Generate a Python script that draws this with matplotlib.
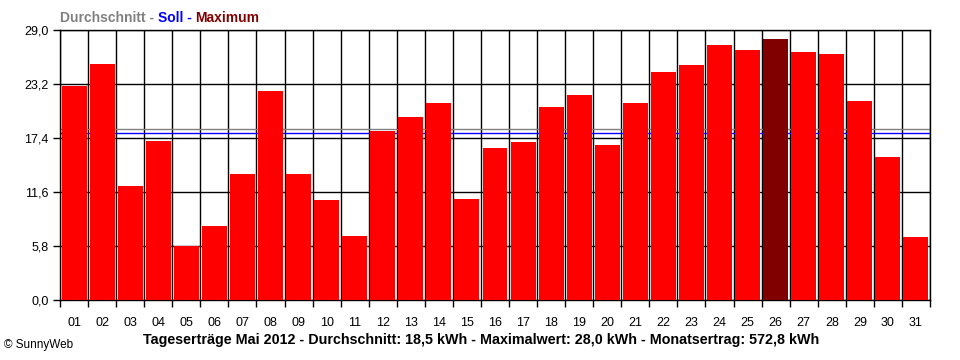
import numpy as np
import matplotlib
matplotlib.use("Agg")
import matplotlib.pyplot as plt
from matplotlib.offsetbox import TextArea, HPacker, AnchoredOffsetbox

# Tageserträge Mai 2012 (kWh)
days = [f"{d:02d}" for d in range(1, 32)]
ertrag = [23.0, 25.3, 12.2, 17.1, 5.8, 8.0, 13.5, 22.5, 13.5, 10.7,
          6.9, 18.2, 19.7, 21.2, 10.8, 16.3, 17.0, 20.7, 22.0, 16.7,
          21.2, 24.5, 25.2, 27.4, 26.9, 28.0, 26.6, 26.4, 21.4, 15.4, 6.8]
durchschnitt = 18.4
soll = 17.9
y_ticks = [0.0, 5.8, 11.6, 17.4, 23.2, 29.0]
caption = ("Tageserträge Mai 2012 - Durchschnitt: 18,5 kWh - "
           "Maximalwert: 28,0 kWh - Monatsertrag: 572,8 kWh")

plt.rcParams['font.family'] = ['Liberation Sans', 'DejaVu Sans']

fig = plt.figure(figsize=(9.6, 3.6), dpi=100)
ax = fig.add_axes([60 / 960, 1 - 300 / 360, 870 / 960, 270 / 360])

x = np.arange(1, len(ertrag) + 1)
imax = int(np.argmax(ertrag))
colors = ['#ff0000'] * len(ertrag)
colors[imax] = '#800000'

# grid + reference lines behind the bars
for yv in y_ticks:
    ax.axhline(yv, color='black', lw=1, zorder=1)
for xv in np.arange(0.5, len(ertrag) + 1):
    ax.axvline(xv, color='black', lw=1, zorder=1)
ax.axhline(durchschnitt, color='#808080', lw=1, zorder=2)
ax.axhline(soll, color='#0000ff', lw=1, zorder=2)

ax.bar(x, ertrag, width=0.89, color=colors, zorder=3)

ax.set_xlim(0.5, len(ertrag) + 0.5)
ax.set_ylim(0, 29.0)
ax.set_xticks(x)
ax.set_xticklabels(days)
ax.set_xticks(np.arange(0.5, len(ertrag) + 1), minor=True)
ax.tick_params(axis='x', which='major', length=0, pad=12, labelsize=9)
ax.tick_params(axis='x', which='minor', length=5, width=1, direction='out')
ax.set_yticks(y_ticks)
ax.set_yticklabels([f"{v:.1f}".replace('.', ',') for v in y_ticks])
ax.tick_params(axis='y', length=5, width=1, direction='out', labelsize=9, pad=3)
for s in ax.spines.values():
    s.set_color('black')
    s.set_linewidth(1)

# legend line at top
parts = [("Durchschnitt - ", '#808080'), ("Soll - ", '#0000ff'), ("Maximum", '#800000')]
boxes = [TextArea(t, textprops=dict(color=c, fontsize=10, fontweight='bold')) for t, c in parts]
pack = HPacker(children=boxes, pad=0, sep=0)
anch = AnchoredOffsetbox(loc='lower left', child=pack, pad=0, frameon=False,
                         bbox_to_anchor=(60 / 960, 1 - 25 / 360),
                         bbox_transform=fig.transFigure, borderpad=0)
fig.add_artist(anch)

fig.text(481 / 960, 1 - 340 / 360, caption, ha='center', va='center',
         fontsize=10.3, fontweight='bold', color='black')
fig.text(4 / 960, 1 - 345 / 360, "© SunnyWeb", ha='left', va='center',
         fontsize=8.5, color='black')

fig.savefig("out.png", dpi=100, facecolor='white')
